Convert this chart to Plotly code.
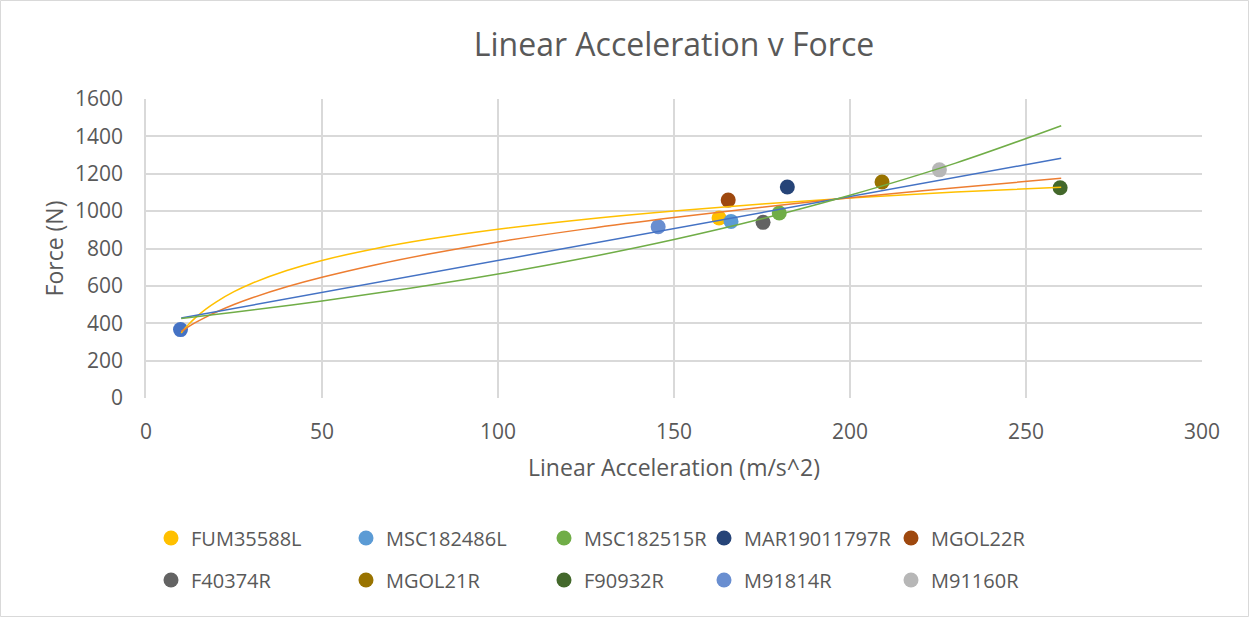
import plotly.graph_objects as go

# ---- Data ----
series_names = ["FUM35588L", "MSC182486L", "MSC182515R", "MAR19011797R", "MGOL22R",
                "F40374R", "MGOL21R", "F90932R", "M91814R", "M91160R"]
series_x = [162.8, 166.2, 179.9, 182.2, 165.4, 175.3, 209.1, 259.7, 145.5, 225.4]
series_y = [963, 945, 990, 1129, 1059, 940, 1156, 1125, 916, 1221]
series_colors = ["#FFC000", "#5B9BD5", "#70AD47", "#264478", "#9E480E",
                 "#636363", "#997300", "#43682B", "#698ED0", "#B7B7B7"]

# first (unlabelled) series
base_x = [9.8]
base_y = [366]

# trendlines
trend_x = [10, 12, 14, 17, 20, 25, 30, 40, 50, 65, 80, 100, 125, 150, 175, 200, 230, 260]
trend_log = [348, 392, 429, 476, 515, 569, 613, 682, 736, 799, 849, 903, 957, 1001, 1038, 1070, 1102, 1128]
trend_pow = [356, 381, 403, 433, 460, 500, 535, 595, 646, 712, 769, 835, 905, 966, 1021, 1071, 1125, 1176]
lin_x = [10, 260]
trend_lin = [428, 1283]
exp_x = [10, 25, 50, 75, 100, 125, 150, 175, 200, 230, 260]
trend_exp = [426, 459, 519, 587, 663, 750, 848, 959, 1085, 1257, 1457]

x_ticks = [0, 50, 100, 150, 200, 250, 300]
y_ticks = [0, 200, 400, 600, 800, 1000, 1200, 1400, 1600]

# ---- Layout geometry (pixels) ----
W, H = 1249, 617
L, R, T, B = 146, 1202, 99, 398
pw, ph = R - L, B - T

def px_x(p):
    return (p - L) / pw

def px_y(p):
    return (B - p) / ph

fig = go.Figure()

font_family = "Open Sans, Liberation Sans, sans-serif"
text_color = "#595959"

# marker traces
fig.add_trace(go.Scatter(x=base_x, y=base_y, mode="markers", showlegend=False,
                         marker=dict(size=15, color="#4472C4"), hoverinfo="x+y"))

legend_cols = [171, 366, 564, 724, 911]
legend_rows = [538, 580]
layout_legends = {}
for i, (n, xv, yv, c) in enumerate(zip(series_names, series_x, series_y, series_colors)):
    key = "legend" if i == 0 else f"legend{i+1}"
    fig.add_trace(go.Scatter(x=[xv], y=[yv], mode="markers", name=n,
                             marker=dict(size=15, color=c), legend=key))
    col = i % 5
    row = i // 5
    layout_legends[key] = dict(
        x=px_x(legend_cols[col] - 20), y=px_y(legend_rows[row]),
        xanchor="left", yanchor="middle", bgcolor="rgba(0,0,0,0)",
        font=dict(family=font_family, size=20, color=text_color),
        itemwidth=30, borderwidth=0,
    )

# trendlines
line_w = 1.5
fig.add_trace(go.Scatter(x=trend_x, y=trend_log, mode="lines", showlegend=False,
                         line=dict(color="#FFC000", width=line_w, shape="spline")))
fig.add_trace(go.Scatter(x=trend_x, y=trend_pow, mode="lines", showlegend=False,
                         line=dict(color="#ED7D31", width=line_w, shape="spline")))
fig.add_trace(go.Scatter(x=lin_x, y=trend_lin, mode="lines", showlegend=False,
                         line=dict(color="#4472C4", width=line_w)))
fig.add_trace(go.Scatter(x=exp_x, y=trend_exp, mode="lines", showlegend=False,
                         line=dict(color="#70AD47", width=line_w, shape="spline")))

fig.update_layout(
    width=W, height=H,
    margin=dict(l=L, r=W - R, t=T, b=H - B, autoexpand=False),
    paper_bgcolor="white", plot_bgcolor="white",
    font=dict(family=font_family, color=text_color, size=18),
    title=dict(text="Linear Acceleration v Force", x=0.5, xref="paper", xanchor="center",
               y=1 - 45 / H, yanchor="middle",
               font=dict(size=32, color=text_color, family=font_family)),
    xaxis=dict(range=[0, 300], tickvals=x_ticks, ticktext=[str(v) for v in x_ticks],
               showgrid=True, gridcolor="#D9D9D9", gridwidth=1.5, zeroline=False,
               showline=False, ticks="outside", ticklen=15, tickcolor="rgba(0,0,0,0)",
               tickfont=dict(size=21, color=text_color),
               title=dict(text="Linear Acceleration (m/s^2)", standoff=15,
                          font=dict(size=23, color=text_color))),
    yaxis=dict(range=[0, 1600], tickvals=y_ticks, ticktext=[str(v) for v in y_ticks],
               showgrid=True, gridcolor="#D9D9D9", gridwidth=1.5, zeroline=False,
               showline=True, linecolor="#D9D9D9", linewidth=1.5,
               ticks="outside", ticklen=17, tickcolor="rgba(0,0,0,0)",
               tickfont=dict(size=21, color=text_color),
               title=dict(text="Force (N)", standoff=5,
                          font=dict(size=23, color=text_color))),
    shapes=[dict(type="rect", xref="paper", yref="paper",
                 x0=px_x(0.5), x1=px_x(W - 0.5), y0=px_y(H - 0.5), y1=px_y(0.5),
                 line=dict(color="#D9D9D9", width=1), fillcolor="rgba(0,0,0,0)", layer="below")],
    **layout_legends,
)

fig.write_html("out.html")
